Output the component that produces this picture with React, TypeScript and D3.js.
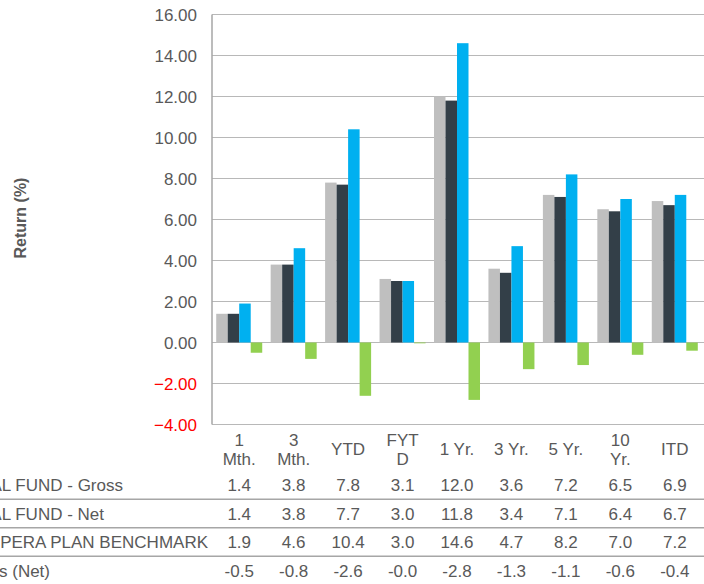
import React, { useEffect, useRef } from "react";
import * as d3 from "d3";

// Period labels (header row of the table), "\n" marks the wrap
const categories = ["1\nMth.", "3\nMth.", "YTD", "FYT\nD", "1 Yr.", "3 Yr.", "5 Yr.", "10\nYr.", "ITD"];

// Series values
const grossValues = [1.4, 3.8, 7.8, 3.1, 12.0, 3.6, 7.2, 6.5, 6.9];
const netValues = [1.4, 3.8, 7.7, 3.0, 11.8, 3.4, 7.1, 6.4, 6.7];
const benchmarkValues = [1.9, 4.6, 10.4, 3.0, 14.6, 4.7, 8.2, 7.0, 7.2];
const excessValues = [-0.5, -0.8, -2.6, -0.04, -2.8, -1.3, -1.1, -0.6, -0.4];

const seriesNames = ["TOTAL FUND - Gross", "TOTAL FUND - Net", "PERA PLAN BENCHMARK", "Excess Returns (Net)"];
const seriesColors = ["#bfbfbf", "#333f48", "#00b0f0", "#92d050"];

const yTicks = [-4, -2, 0, 2, 4, 6, 8, 10, 12, 14, 16];

const FONT = "'Liberation Sans', Arial, sans-serif";
const TEXT = "#595959";

export default function App() {
  const ref = useRef<SVGSVGElement>(null);

  useEffect(() => {
    const svg = d3.select(ref.current);
    svg.selectAll("*").remove();

    const series = [grossValues, netValues, benchmarkValues, excessValues];
    const keys = d3.range(series.length).map(String);

    // Plot area
    const left = 212;
    const right = 702;
    const top = 14.5;
    const bottom = 424.5;

    const y = d3.scaleLinear().domain([-4, 16]).range([bottom, top]);

    const x0 = d3.scaleBand<string>()
      .domain(categories)
      .range([left, right])
      .paddingInner(0.155)
      .paddingOuter(0.0775);

    const x1 = d3.scaleBand<string>()
      .domain(keys)
      .range([0, x0.bandwidth()]);

    const center = (c: string) => (x0(c) as number) + x0.bandwidth() / 2;

    // Gridlines
    svg.append("g")
      .selectAll("line")
      .data(yTicks)
      .join("line")
      .attr("x1", left)
      .attr("x2", 704)
      .attr("y1", d => y(d))
      .attr("y2", d => y(d))
      .attr("stroke", "#b8b8b8")
      .attr("stroke-width", 1.2);

    // Tick labels
    svg.append("g")
      .selectAll("text")
      .data(yTicks)
      .join("text")
      .attr("x", 197)
      .attr("y", d => y(d) + 6)
      .attr("text-anchor", "end")
      .attr("font-family", FONT)
      .attr("font-size", 17)
      .attr("fill", d => (d < 0 ? "#ff0000" : TEXT))
      .text(d => d3.format(".2f")(d));

    // Bars
    const groups = svg.append("g")
      .selectAll("g")
      .data(categories)
      .join("g")
      .attr("transform", d => `translate(${x0(d)},0)`);

    groups.selectAll("rect")
      .data((_, i) => series.map((s, k) => ({ key: String(k), value: s[i] })))
      .join("rect")
      .attr("x", d => x1(d.key) as number)
      .attr("width", x1.bandwidth())
      .attr("y", d => y(Math.max(0, d.value)))
      .attr("height", d => Math.abs(y(d.value) - y(0)))
      .attr("fill", d => seriesColors[+d.key]);

    // Left axis line
    svg.append("line")
      .attr("x1", left)
      .attr("x2", left)
      .attr("y1", top)
      .attr("y2", bottom)
      .attr("stroke", "#a6a6a6")
      .attr("stroke-width", 1.5);

    // Axis title
    svg.append("text")
      .attr("transform", "translate(26,218) rotate(-90)")
      .attr("text-anchor", "middle")
      .attr("font-family", FONT)
      .attr("font-size", 16)
      .attr("font-weight", "bold")
      .attr("fill", TEXT)
      .text("Return (%)");

    // Table header (category labels)
    const header = svg.append("g")
      .selectAll("text")
      .data(categories)
      .join("text")
      .attr("text-anchor", "middle")
      .attr("font-family", FONT)
      .attr("font-size", 17)
      .attr("fill", TEXT);

    header.each(function (d) {
      const lines = d.split("\n");
      const base = lines.length === 1 ? 455 : 445.5;
      d3.select(this)
        .selectAll("tspan")
        .data(lines)
        .join("tspan")
        .attr("x", center(d))
        .attr("y", (_, j) => base + j * 19)
        .text(l => l);
    });

    // Table rows
    const rowBase = [491, 519.5, 548, 576.5];
    const labelEnd = [123, 104, 208, 50];

    series.forEach((s, k) => {
      svg.append("text")
        .attr("x", labelEnd[k])
        .attr("y", rowBase[k])
        .attr("text-anchor", "end")
        .attr("font-family", FONT)
        .attr("font-size", 17)
        .attr("fill", TEXT)
        .text(seriesNames[k]);

      svg.append("g")
        .selectAll("text")
        .data(s)
        .join("text")
        .attr("x", (_, i) => center(categories[i]))
        .attr("y", rowBase[k])
        .attr("text-anchor", "middle")
        .attr("font-family", FONT)
        .attr("font-size", 17)
        .attr("fill", TEXT)
        .text(v => v.toFixed(1));
    });

    // Row separators
    svg.append("g")
      .selectAll("line")
      .data([499.3, 527.8, 556.3])
      .join("line")
      .attr("x1", 0)
      .attr("x2", 704)
      .attr("y1", d => d)
      .attr("y2", d => d)
      .attr("stroke", "#a6a6a6")
      .attr("stroke-width", 1.5);
  }, []);

  return (
    <svg
      ref={ref}
      width={704}
      height={584}
      style={{ position: "absolute", left: 0, top: 0, background: "#fff" }}
    />
  );
}
